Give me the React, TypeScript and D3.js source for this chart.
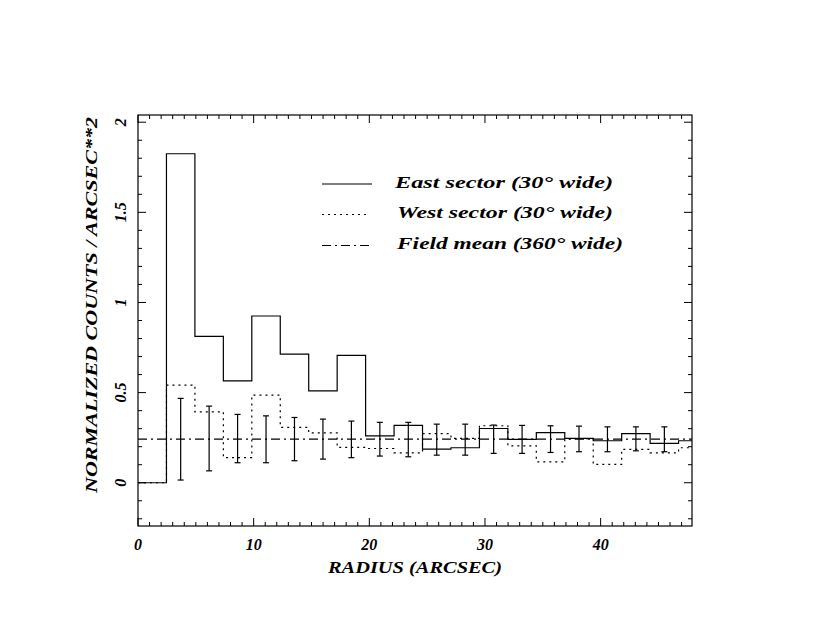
import React from 'react';
import * as d3 from 'd3';

// radial bins (arcsec), left edges plus the closing edge
const binEdges = [0, 2.46, 4.92, 7.38, 9.84, 12.3, 14.76, 17.22, 19.68, 22.14, 24.6,
    27.06, 29.52, 31.98, 34.44, 36.9, 39.36, 41.82, 44.28, 46.74, 49.2];

const eastCounts = [0, 1.825, 0.812, 0.565, 0.925, 0.713, 0.51, 0.707, 0.26, 0.318,
    0.187, 0.194, 0.301, 0.24, 0.278, 0.246, 0.233, 0.272, 0.218, 0.233];

const westCounts = [0, 0.541, 0.393, 0.139, 0.486, 0.307, 0.277, 0.196, 0.19, 0.166,
    0.272, 0.246, 0.316, 0.205, 0.116, 0.245, 0.102, 0.185, 0.166, 0.194];

const fieldMean = 0.242;

const errRadius = [3.69, 6.15, 8.61, 11.07, 13.53, 15.99, 18.45, 20.91, 23.37,
    25.83, 28.29, 30.75, 33.21, 35.67, 38.13, 40.59, 43.05, 45.51];
const errHigh = [0.468, 0.425, 0.379, 0.371, 0.362, 0.353, 0.342, 0.335, 0.335,
    0.325, 0.325, 0.32, 0.318, 0.316, 0.314, 0.31, 0.31, 0.31];
const errLow = [0.015, 0.066, 0.111, 0.111, 0.122, 0.131, 0.139, 0.148, 0.144,
    0.153, 0.153, 0.163, 0.163, 0.168, 0.172, 0.172, 0.177, 0.172];

const xMajorTicks = [0, 10, 20, 30, 40];
const xTickLabels = ['0', '10', '20', '30', '40'];
const yMajorTicks = [0, 0.5, 1, 1.5, 2];
const yTickLabels = ['0', '0.5', '1', '1.5', '2'];

const legendLabels = ['East sector (30° wide)', 'West sector (30° wide)', 'Field mean (360° wide)'];

const W = 830;
const H = 642;
const plot = { left: 138, right: 692, top: 115, bottom: 526 };
const font = '"Liberation Serif", serif';

const x = d3.scaleLinear().domain([0, 47.9]).range([plot.left, plot.right]);
const y = d3.scaleLinear().domain([-0.24, 2.04]).range([plot.bottom, plot.top]);

function stepPath(values: number[]) {
    const pts: [number, number][] = values.map((v, i) => [binEdges[i], v]);
    pts.push([binEdges[values.length], values[values.length - 1]]);
    return d3.line<[number, number]>()
        .x(d => x(d[0]))
        .y(d => y(d[1]))
        .curve(d3.curveStepAfter)(pts) || '';
}

const App: React.FC = () => {
    const xMinor = d3.range(0, 48, 1);
    const yMinor = d3.range(-2, 21, 1).map(d => d / 10);
    const dashDot = '9,4,2,4';
    const dotted = '2,4';

    return (
        <div style={{ position: 'absolute', left: 0, top: 0 }}>
            <svg width={W} height={H} style={{ display: 'block', background: '#fff' }}>
                <defs>
                    <clipPath id="plotClip">
                        <rect x={plot.left} y={plot.top} width={plot.right - plot.left} height={plot.bottom - plot.top} />
                    </clipPath>
                </defs>

                {/* ticks on all four sides */}
                <g stroke="#000" strokeWidth={1}>
                    {xMinor.map(t => {
                        const len = t % 10 === 0 ? 8 : 4;
                        return (
                            <g key={'xt' + t}>
                                <line x1={x(t)} x2={x(t)} y1={plot.bottom} y2={plot.bottom - len} />
                                <line x1={x(t)} x2={x(t)} y1={plot.top} y2={plot.top + len} />
                            </g>
                        );
                    })}
                    {yMinor.map(t => {
                        const len = Math.round(t * 10) % 5 === 0 ? 8 : 4;
                        return (
                            <g key={'yt' + t}>
                                <line x1={plot.left} x2={plot.left + len} y1={y(t)} y2={y(t)} />
                                <line x1={plot.right} x2={plot.right - len} y1={y(t)} y2={y(t)} />
                            </g>
                        );
                    })}
                </g>

                <g clipPath="url(#plotClip)" fill="none" stroke="#000" strokeWidth={1.2}>
                    <line x1={x(0)} x2={plot.right} y1={y(fieldMean)} y2={y(fieldMean)} strokeDasharray={dashDot} />
                    <path d={stepPath(westCounts)} strokeDasharray={dotted} />
                    <path d={stepPath(eastCounts)} />
                    {errRadius.map((r, i) => (
                        <g key={'e' + i}>
                            <line x1={x(r)} x2={x(r)} y1={y(errLow[i])} y2={y(errHigh[i])} />
                            <line x1={x(r) - 3} x2={x(r) + 3} y1={y(errLow[i])} y2={y(errLow[i])} />
                            <line x1={x(r) - 3} x2={x(r) + 3} y1={y(errHigh[i])} y2={y(errHigh[i])} />
                        </g>
                    ))}
                </g>

                <rect x={plot.left} y={plot.top} width={plot.right - plot.left} height={plot.bottom - plot.top}
                      fill="none" stroke="#000" strokeWidth={1.2} />

                {/* tick labels */}
                <g fontFamily={font} fontStyle="italic" fontWeight="bold" fontSize={16} fill="#000">
                    {xMajorTicks.map((t, i) => (
                        <text key={'xl' + t} x={x(t)} y={549.5} textAnchor="middle">{xTickLabels[i]}</text>
                    ))}
                    {yMajorTicks.map((t, i) => (
                        <text key={'yl' + t} transform={`translate(125.5,${y(t)}) rotate(-90)`} textAnchor="middle">
                            {yTickLabels[i]}
                        </text>
                    ))}
                </g>

                {/* axis titles */}
                <g fontFamily={font} fontStyle="italic" fontWeight="bold" fontSize={17} fill="#000">
                    <text x={(plot.left + plot.right) / 2} y={573} textAnchor="middle"
                          textLength={174} lengthAdjust="spacingAndGlyphs">RADIUS (ARCSEC)</text>
                    <text transform={`translate(96.5,305) rotate(-90)`} textAnchor="middle"
                          textLength={376} lengthAdjust="spacingAndGlyphs">NORMALIZED COUNTS / ARCSEC**2</text>
                </g>

                {/* legend */}
                <g fill="none" stroke="#000" strokeWidth={1.2}>
                    <line x1={322} x2={372} y1={184} y2={184} />
                    <line x1={322} x2={369} y1={214.5} y2={214.5} strokeDasharray={dotted} />
                    <line x1={322} x2={372} y1={245.5} y2={245.5} strokeDasharray={dashDot} />
                </g>
                <g fontFamily={font} fontStyle="italic" fontWeight="bold" fontSize={17} fill="#000">
                    <text x={395} y={188} textLength={218} lengthAdjust="spacingAndGlyphs">{legendLabels[0]}</text>
                    <text x={397} y={218} textLength={216} lengthAdjust="spacingAndGlyphs">{legendLabels[1]}</text>
                    <text x={397} y={248.5} textLength={226} lengthAdjust="spacingAndGlyphs">{legendLabels[2]}</text>
                </g>
            </svg>
        </div>
    );
};

export default App;
